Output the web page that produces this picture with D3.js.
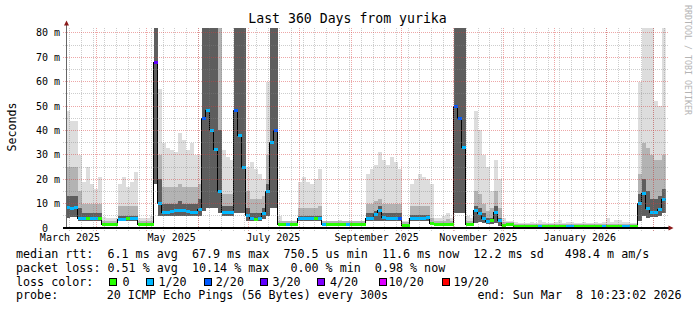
<!DOCTYPE html>
<html lang="en">
<head>
  <meta charset="UTF-8">
  <title>Last 360 Days from yurika</title>
  <style>
    body { margin: 0; background: #fff; }
    svg text { font-family: "DejaVu Sans Mono", monospace; fill: #000; white-space: pre; }
  </style>
  <script src="https://d3js.org/d3.v7.min.js"></script>
</head>
<body>
  <svg id="smoke" width="697" height="310"></svg>
  <script>
    // 150 steps of 2.4 days each, values in ms
    const median = [
      8.5, 8, 8.5, 4, 4, 3.8, 4, 3.8, 4, 1.6,
      1.5, 1.5, 1.6, 3.6, 3.3, 3.8, 4, 3.8, 1.5, 1.5,
      1.5, 1.5, 68, 10, 6.5, 6.5, 6.8, 7, 7.2, 7,
      6.7, 6.5, 6.4, 7.5, 45, 48, 40, 32, 15, 6.5,
      6.3, 6.3, 48, 38, 25, 5, 3.8, 3.5, 3.8, 6,
      15, 35, 40, 1.6, 1.6, 1.6, 1.5, 1.6, 4, 4,
      3.8, 4, 3.8, 4, 1.5, 1.5, 1.5, 1.4, 1.5, 1.5,
      1.5, 1.4, 1.5, 1.5, 1.5, 4, 4, 5.5, 7, 4.5,
      4, 4, 4, 4, 1, 1.2, 3.8, 4, 4, 4,
      4.2, 2, 1.6, 1.6, 1.6, 1.6, 1.6, 50, 45, 33,
      1.6, 1.6, 7, 6, 4, 2.5, 3, 6.5, 3, 1.2,
      1.3, 1.3, 0.8, 0.8, 0.8, 0.8, 0.8, 0.8, 0.8, 0.8,
      0.8, 0.8, 0.8, 0.8, 0.8, 0.8, 0.8, 0.8, 0.8, 0.8,
      0.8, 0.8, 0.8, 0.8, 0.8, 0.8, 0.8, 0.8, 0.8, 0.8,
      0.8, 0.8, 0.8, 10, 14, 8, 6.3, 6.3, 7.5, 11.5
    ];
    // index into lossColors
    const lossIdx = [
      1, 1, 1, 1, 1, 0, 1, 1, 0, 0,
      0, 0, 0, 1, 1, 0, 1, 1, 0, 0,
      0, 0, 3, 1, 1, 1, 1, 1, 1, 1,
      1, 1, 1, 1, 2, 1, 1, 1, 1, 1,
      1, 1, 2, 1, 1, 1, 1, 0, 1, 1,
      1, 1, 2, 0, 0, 1, 0, 0, 1, 1,
      1, 1, 0, 1, 1, 0, 0, 0, 0, 0,
      1, 0, 0, 0, 0, 1, 1, 1, 1, 1,
      1, 1, 1, 2, 0, 0, 1, 1, 1, 1,
      1, 0, 0, 0, 0, 0, 0, 2, 2, 1,
      0, 0, 1, 1, 1, 1, 0, 1, 1, 0,
      0, 0, 0, 0, 0, 0, 0, 0, 1, 0,
      0, 0, 0, 0, 0, 1, 1, 0, 0, 0,
      0, 0, 0, 0, 1, 0, 0, 0, 0, 1,
      1, 0, 0, 1, 1, 1, 1, 1, 1, 1
    ];
    const pingMin = [
      4, 4.5, 4.5, 3, 3, 3, 3, 3, 3, 1.2,
      1.2, 1.2, 1.2, 3, 3, 3, 3, 3, 1.2, 1.2,
      1.2, 1.2, 18, 5, 4.8, 4.8, 5, 5, 5, 5,
      5, 4.8, 4.8, 5, 7, 8, 8, 8, 6, 4.8,
      4.8, 4.8, 6, 6, 6, 3, 3, 3, 3, 3.5,
      5, 8, 8, 1.2, 1.2, 1.2, 1.2, 1.2, 3, 3,
      3, 3, 3, 3, 1.2, 1.2, 1.2, 1.2, 1.2, 1.2,
      1.2, 1.2, 1.2, 1.2, 1.2, 3, 3, 3, 3, 3,
      3, 3, 3, 3, 0.8, 0.8, 3, 3, 3, 3,
      3, 1.2, 1.2, 1.2, 1.2, 1.2, 1.2, 6, 6, 6,
      1.2, 1.2, 2, 2.5, 2, 1.5, 1.5, 2, 1, 1,
      1, 1, 0.6, 0.6, 0.6, 0.6, 0.6, 0.6, 0.6, 0.6,
      0.6, 0.6, 0.6, 0.6, 0.6, 0.6, 0.6, 0.6, 0.6, 0.6,
      0.6, 0.6, 0.6, 0.6, 0.6, 0.6, 0.6, 0.6, 0.6, 0.6,
      0.6, 0.6, 0.6, 3, 5, 4, 4.5, 4.5, 5, 6
    ];
    const pingCore = [
      13, 13, 13, 8, 6, 6, 6, 6, 6, 2.2,
      2.2, 2.2, 2.2, 5, 5, 5, 5, 5, 2.2, 2.2,
      2.2, 2.2, 90, 20, 10, 10, 10, 10, 11, 10,
      10, 10, 10, 12, 90, 90, 90, 90, 40, 9,
      9, 9, 90, 90, 90, 8, 6, 6, 6, 8,
      18, 90, 90, 2, 2, 2, 2, 2, 5, 5,
      5, 5, 5, 5, 2, 2, 2, 2, 2, 2,
      2, 2, 2, 2, 2, 6, 6, 7, 9, 6,
      6, 6, 6, 6, 1.6, 1.8, 5.5, 5.5, 5.5, 5.5,
      5.5, 2.5, 2, 2, 2, 2, 2, 90, 90, 90,
      2, 2, 9, 8, 6, 4, 4, 9, 4, 1.6,
      1.6, 1.6, 1, 1, 1, 1, 1, 1, 1, 1,
      1, 1, 1, 1, 1, 1, 1, 1, 1, 1,
      1, 1, 1, 1, 1, 1, 1, 1, 1, 1,
      1, 1, 1, 14, 20, 15, 12, 12, 13, 16
    ];
    const pingMid = [
      25, 25, 25, 15, 10, 10, 10, 10, 10, 3,
      3, 3, 3, 9, 9, 9, 9, 9, 3, 3,
      3, 3, 90, 30, 17, 17, 17, 17, 18, 17,
      17, 17, 17, 18, 90, 90, 90, 90, 90, 14,
      14, 14, 90, 90, 90, 15, 12, 12, 12, 13,
      30, 90, 90, 3, 3, 3, 3, 3, 8, 8,
      8, 8, 8, 9, 2.8, 2.8, 2.8, 2.8, 2.8, 2.8,
      2.8, 2.8, 2.8, 2.8, 2.8, 10, 10, 11, 12, 10,
      10, 10, 10, 10, 2.5, 2.5, 9, 9, 9, 9,
      9, 4, 3, 3, 3, 3.5, 3, 90, 90, 90,
      3, 3, 15, 14, 10, 7, 8, 15, 8, 2.5,
      2.5, 2.5, 1.6, 1.5, 1.5, 1.5, 1.5, 1.5, 1.5, 1.5,
      1.5, 1.5, 1.5, 1.5, 1.5, 1.5, 1.5, 1.5, 1.5, 1.5,
      1.5, 1.5, 1.5, 1.5, 1.5, 1.5, 1.5, 1.5, 1.5, 1.5,
      1.5, 1.5, 1.5, 22, 35, 33, 30, 28, 28, 30
    ];
    const pingMax = [
      48, 44, 44, 30, 19, 25, 18, 16, 21, 4.5,
      4.2, 4.2, 4.2, 18, 21, 17, 19, 23, 4, 4,
      4, 5, 90, 57, 35, 33, 32, 31, 39, 36,
      32, 35, 30, 30, 90, 90, 90, 90, 90, 32,
      29, 28, 90, 90, 90, 25, 27, 24, 22, 20,
      60, 90, 90, 5, 3, 3, 3, 3, 19, 21,
      19, 18, 20, 24, 3, 3, 3, 3, 3.3, 3,
      3, 3, 3, 3, 3, 22, 24, 26, 31, 28,
      26, 29, 27, 24, 3, 3, 18, 20, 22, 21,
      20, 18, 4, 4, 5, 6, 4, 90, 90, 90,
      5, 4, 48, 40, 30, 25, 15, 28, 20, 4,
      3, 3, 2.5, 2.2, 2.0, 2.2, 2.5, 2.2, 3.3, 2.5,
      2.2, 2.2, 2.5, 3.3, 2.2, 2.5, 2.5, 2.2, 2.2, 2.5,
      2.2, 2.2, 2.5, 2.2, 2.5, 4, 2.5, 3.3, 3.3, 2.5,
      2.5, 2.2, 2.2, 60, 90, 90, 85, 52, 50, 90
    ];

    const lossLabels = ["0", "1/20", "2/20", "3/20", "4/20", "10/20", "19/20"];
    const lossColors = ["#26ff00", "#00b8ff", "#0059ff", "#5e00ff", "#7e00ff", "#dd00ff", "#ff0000"];

    const yTicks = [0, 10, 20, 30, 40, 50, 60, 70, 80];
    const yTickLabels = ["0  ", "10 m", "20 m", "30 m", "40 m", "50 m", "60 m", "70 m", "80 m"];
    const xTickMonths = ["2025-03", "2025-05", "2025-07", "2025-09", "2025-11", "2026-01"];
    const xTickLabels = ["March 2025", "May 2025", "July 2025", "September 2025", "November 2025", "January 2026"];

    const statLines = [
      "median rtt:  6.1 ms avg  67.9 ms max  750.5 us min  11.6 ms now  12.2 ms sd   498.4 m am/s",
      "packet loss: 0.51 % avg  10.14 % max   0.00 % min  0.98 % now"
    ];
    const probeText = "20 ICMP Echo Pings (56 Bytes) every 300s";
    const endText = "end: Sun Mar  8 10:23:02 2026";

    const svg = d3.select("svg#smoke");
    const plotLeft = 65.7, plotTop = 28, plotWidth = 600, plotHeight = 200;

    const endTime = new Date(Date.UTC(2026, 2, 8, 10, 23, 2));
    const startTime = d3.utcDay.offset(endTime, -360);
    const xScale = d3.scaleUtc().domain([startTime, endTime]).range([plotLeft, plotLeft + plotWidth]);
    const yScale = d3.scaleLinear().domain([0, 82.05]).range([plotTop + plotHeight, plotTop]);
    const stepMs = (endTime - startTime) / median.length;
    const stepStart = i => new Date(+startTime + i * stepMs);
    const px = v => Math.floor(v) + 0.5;

    svg.append("rect").attr("width", 697).attr("height", 310).attr("fill", "#fff");

    svg.append("defs").append("clipPath").attr("id", "plotClip")
      .append("rect")
      .attr("x", plotLeft).attr("y", plotTop)
      .attr("width", plotWidth).attr("height", plotHeight);

    // smoke
    let chartArea = svg.append("g")
      .attr("clip-path", "url(#plotClip)")
      .attr("shape-rendering", "crispEdges");

    const bands = [
      { top: pingMax, color: "#dddddd" },
      { top: pingMid, color: "#b3b3b3" },
      { top: pingCore, color: "#5e5e5e" }
    ];
    bands.forEach(b => {
      chartArea.append("g").selectAll("rect")
        .data(median)
        .join("rect")
        .attr("x", (d, i) => xScale(stepStart(i)))
        .attr("width", (d, i) => xScale(stepStart(i + 1)) - xScale(stepStart(i)))
        .attr("y", (d, i) => yScale(b.top[i]))
        .attr("height", (d, i) => yScale(pingMin[i]) - yScale(b.top[i]))
        .attr("fill", b.color);
    });

    // median line + loss colour
    const medPts = median.map((d, i) => [xScale(stepStart(i)), yScale(d)]);
    medPts.push([xScale(endTime), yScale(median[median.length - 1])]);
    chartArea.append("path")
      .attr("d", d3.line().curve(d3.curveStepAfter)(medPts))
      .attr("fill", "none")
      .attr("stroke", "#000")
      .attr("stroke-width", 1);

    chartArea.append("g").selectAll("rect")
      .data(median)
      .join("rect")
      .attr("x", (d, i) => xScale(stepStart(i)))
      .attr("width", (d, i) => xScale(stepStart(i + 1)) - xScale(stepStart(i)))
      .attr("y", d => yScale(d) - 1.5)
      .attr("height", 3)
      .attr("fill", (d, i) => lossColors[lossIdx[i]]);

    // grid
    const grid = svg.append("g").attr("shape-rendering", "crispEdges")
      .attr("stroke-dasharray", "1,1").attr("fill", "none");
    const minorCol = "rgba(130,130,130,0.4)";
    const majorCol = "rgba(215,60,60,0.45)";

    d3.range(5, 82, 10).forEach(v => {
      grid.append("line").attr("x1", 63).attr("x2", 669)
        .attr("y1", px(yScale(v))).attr("y2", px(yScale(v))).attr("stroke", minorCol);
    });
    d3.utcSunday.range(startTime, endTime).forEach(t => {
      grid.append("line").attr("x1", px(xScale(t))).attr("x2", px(xScale(t)))
        .attr("y1", plotTop).attr("y2", 231).attr("stroke", minorCol);
    });
    yTicks.slice(1).forEach(v => {
      grid.append("line").attr("x1", 63).attr("x2", 669)
        .attr("y1", px(yScale(v))).attr("y2", px(yScale(v))).attr("stroke", majorCol);
    });
    d3.utcMonth.range(startTime, endTime).forEach(t => {
      grid.append("line").attr("x1", px(xScale(t))).attr("x2", px(xScale(t)))
        .attr("y1", plotTop).attr("y2", 231).attr("stroke", majorCol);
    });

    // axes
    svg.append("line").attr("x1", 66.5).attr("x2", 66.5).attr("y1", 228).attr("y2", 24)
      .attr("stroke", "#666").attr("shape-rendering", "crispEdges");
    svg.append("line").attr("x1", 63).attr("x2", 669).attr("y1", 228).attr("y2", 228)
      .attr("stroke", "#000").attr("stroke-width", 2).attr("shape-rendering", "crispEdges");
    svg.append("path").attr("d", "M64,25.5 L69,25.5 L66.5,20.5 Z").attr("fill", "#8b1a1a");
    svg.append("path").attr("d", "M668.5,225.5 L668.5,230.5 L673.5,228 Z").attr("fill", "#8b1a1a");

    svg.append("g").selectAll("text")
      .data(yTicks)
      .join("text")
      .attr("x", 60)
      .attr("y", d => yScale(d) + 3.5)
      .attr("text-anchor", "end")
      .attr("font-size", 10)
      .text((d, i) => yTickLabels[i]);

    const parseMonth = d3.utcParse("%Y-%m");
    svg.append("g").selectAll("text")
      .data(xTickMonths)
      .join("text")
      .attr("x", d => xScale(d3.utcDay.offset(parseMonth(d), 15)))
      .attr("y", 241)
      .attr("text-anchor", "middle")
      .attr("font-size", 10)
      .text((d, i) => xTickLabels[i]);

    // titles
    svg.append("text")
      .attr("x", 347.5).attr("y", 23)
      .attr("text-anchor", "middle")
      .attr("font-size", 13.2)
      .text("Last 360 Days from yurika");

    svg.append("text")
      .attr("transform", "translate(15.5,127) rotate(-90)")
      .attr("text-anchor", "middle")
      .attr("font-size", 11.6)
      .text("Seconds");

    svg.append("text")
      .attr("transform", "translate(684.5,5) rotate(90)")
      .attr("font-size", 9)
      .attr("textLength", 110)
      .attr("lengthAdjust", "spacingAndGlyphs")
      .style("fill", "#b4b4b4")
      .text("RRDTOOL / TOBI OETIKER");

    // legend
    const legend = svg.append("g").attr("font-size", 11.7);
    legend.append("text").attr("x", 16).attr("y", 258.3).text(statLines[0]);
    legend.append("text").attr("x", 16).attr("y", 271.7).text(statLines[1]);
    legend.append("text").attr("x", 16).attr("y", 285.5).text("loss color:");
    legend.append("text").attr("x", 16).attr("y", 299).text("probe:");
    legend.append("text").attr("x", 106.7).attr("y", 299).text(probeText);
    legend.append("text").attr("x", 477.5).attr("y", 299).text(endText);

    const boxX = [109, 146, 203.5, 260, 317, 378.5, 442];
    const labelX = [122.5, 158.5, 215.8, 272.4, 330, 388.5, 453.5];
    lossLabels.forEach((lab, k) => {
      legend.append("rect")
        .attr("x", boxX[k] + 0.5).attr("y", 278.5)
        .attr("width", 7).attr("height", 7)
        .attr("fill", lossColors[k])
        .attr("stroke", "#000")
        .attr("shape-rendering", "crispEdges");
      legend.append("text").attr("x", labelX[k]).attr("y", 285.5).text(lab);
    });
  </script>
</body>
</html>
